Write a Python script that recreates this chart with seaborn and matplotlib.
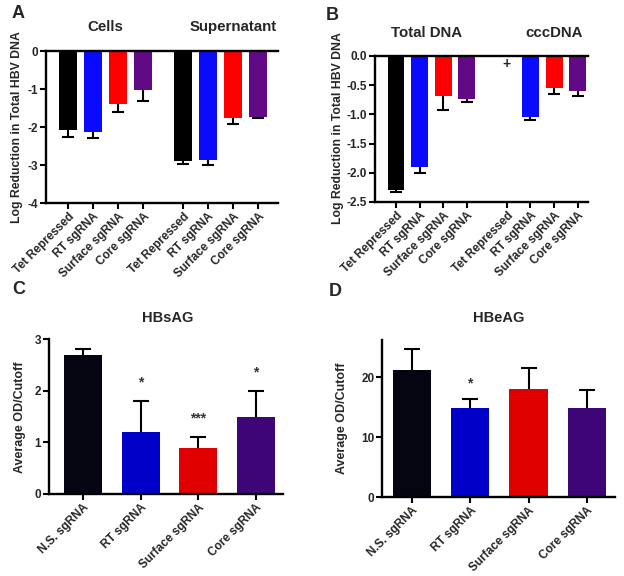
import numpy as np
import pandas as pd
import seaborn as sns
import matplotlib.pyplot as plt

# --- data ---
sgrna_labels = ["Tet Repressed", "RT sgRNA", "Surface sgRNA", "Core sgRNA"]
elisa_labels = ["N.S. sgRNA", "RT sgRNA", "Surface sgRNA", "Core sgRNA"]

cells_mean = [-2.07, -2.13, -1.40, -1.02]
cells_err = [0.18, 0.17, 0.20, 0.30]
super_mean = [-2.90, -2.87, -1.77, -1.73]
super_err = [0.08, 0.13, 0.15, 0.02]

total_mean = [-2.30, -1.90, -0.68, -0.74]
total_err = [0.03, 0.10, 0.24, 0.04]
ccc_mean = [np.nan, -1.05, -0.55, -0.60]
ccc_err = [np.nan, 0.05, 0.10, 0.08]

hbsag_mean = [2.7, 1.2, 0.9, 1.5]
hbsag_err = [0.1, 0.6, 0.2, 0.5]
hbsag_stars = ["", "*", "***", "*"]

hbeag_mean = [21.2, 14.8, 18.1, 14.9]
hbeag_err = [3.5, 1.5, 3.4, 2.9]
hbeag_stars = ["", "*", "", ""]

dna_colors = ["#000000", "#0a0aff", "#ff0000", "#620a86"]
elisa_colors = ["#050512", "#0000c8", "#e00000", "#3d0577"]

sns.set_style("ticks")
plt.rcParams["font.family"] = ["Liberation Sans", "DejaVu Sans"]
plt.rcParams["font.weight"] = "bold"
plt.rcParams["axes.unicode_minus"] = False

W, H = 624, 576
fig = plt.figure(figsize=(W / 100, H / 100), dpi=100)


def px_axes(x0, y0, x1, y1):
    # pixel box (left, top, right, bottom) -> figure axes
    return fig.add_axes([x0 / W, 1 - y1 / H, (x1 - x0) / W, (y1 - y0) / H])


def style_axes(ax, top=False, size=8):
    sns.despine(ax=ax, top=not top, right=True)
    for s in ax.spines.values():
        s.set_linewidth(1.7)
        s.set_color("black")
    ax.tick_params(width=1.5, length=4, color="black", labelsize=size, pad=1.5)
    for t in ax.get_yticklabels():
        t.set_fontweight("bold")


def one_sided_errorbar(ax, x, y, err, down, capsize):
    e = np.nan_to_num(np.array(err))
    z = np.zeros_like(e)
    yerr = [e, z] if down else [z, e]
    _, caps, _ = ax.errorbar(x, y, yerr=yerr, fmt="none", ecolor="black",
                             elinewidth=1.5, capsize=capsize, capthick=1.5, zorder=5)
    # hide the cap that sits on the bar end
    caps[1 if down else 0].set_visible(False)


def dna_panel(ax, positions, means, errs, labels, ylim, yticks, ytl):
    df = pd.DataFrame({"pos": positions, "value": means,
                       "label": [f"{l} {i // 4}" for i, l in enumerate(labels)]})
    pal = {f"{l} {i // 4}": dna_colors[i % 4] for i, l in enumerate(labels)}
    sns.barplot(data=df.dropna(), x="pos", y="value", hue="label", palette=pal,
                native_scale=True, dodge=False, legend=False, errorbar=None,
                width=0.72, saturation=1, linewidth=0, edgecolor="none", ax=ax)
    one_sided_errorbar(ax, positions, means, errs, True, 4.5)
    ax.set_ylim(*ylim)
    ax.set_yticks(yticks)
    ax.set_yticklabels(ytl, fontweight="bold")
    ax.set_xticks(positions)
    ax.set_xticklabels(labels, rotation=45, ha="right", rotation_mode="anchor",
                       fontweight="bold", fontsize=8.5)
    ax.set_xlabel("")
    ax.set_ylabel("")
    style_axes(ax, top=True, size=8.5)
    ax.tick_params(axis="x", top=False)


def elisa_panel(ax, means, errs, stars, colors, ylim, yticks, star_off):
    df = pd.DataFrame({"label": elisa_labels, "value": means})
    sns.barplot(data=df, x="label", y="value", hue="label", palette=colors,
                legend=False, errorbar=None, width=0.66, saturation=1,
                linewidth=0, edgecolor="none", ax=ax)
    one_sided_errorbar(ax, range(4), means, errs, False, 5.5)
    for i, s in enumerate(stars):
        if s:
            ax.text(i, means[i] + errs[i] + star_off, s, ha="center", va="center",
                    fontsize=10, fontweight="bold", color="#333333")
    ax.set_ylim(*ylim)
    ax.set_yticks(yticks)
    ax.set_xticks(range(4))
    ax.set_xticklabels(elisa_labels, rotation=45, ha="right", rotation_mode="anchor",
                       fontweight="bold", fontsize=8.5)
    ax.set_xlabel("")
    ax.set_ylabel("")
    style_axes(ax, size=8.5)


# Panel A
axA = px_axes(46, 51, 278, 203)
posA = [0, 1, 2, 3, 4.6, 5.6, 6.6, 7.6]
dna_panel(axA, posA, cells_mean + super_mean, cells_err + super_err,
          sgrna_labels * 2, (-4, 0), [-4, -3, -2, -1, 0], ["-4", "-3", "-2", "-1", "0"])
axA.set_xlim(-0.88, 8.4)
trA = axA.get_xaxis_transform()
axA.text(1.5, 1.158, "Cells", transform=trA, ha="center", va="center", fontsize=10.8, fontweight="bold")
axA.text(6.6, 1.158, "Supernatant", transform=trA, ha="center", va="center", fontsize=10.8, fontweight="bold")

# Panel B
axB = px_axes(375, 56, 588, 202)
posB = [0, 1, 2, 3, 4.7, 5.7, 6.7, 7.7]
dna_panel(axB, posB, total_mean + ccc_mean, total_err + ccc_err,
          sgrna_labels * 2, (-2.5, 0), [-2.5, -2.0, -1.5, -1.0, -0.5, 0.0],
          ["-2.5", "-2.0", "-1.5", "-1.0", "-0.5", "0.0"])
axB.set_xlim(-0.89, 8.14)
axB.text(4.7, -0.13, "+", ha="center", va="center", fontsize=10, fontweight="bold")
trB = axB.get_xaxis_transform()
axB.text(1.31, 1.158, "Total DNA", transform=trB, ha="center", va="center", fontsize=10.8, fontweight="bold")
axB.text(6.7, 1.158, "cccDNA", transform=trB, ha="center", va="center", fontsize=10.8, fontweight="bold")

# Panel C
axC = px_axes(49, 339, 283, 494)
elisa_panel(axC, hbsag_mean, hbsag_err, hbsag_stars, elisa_colors, (0, 3), [0, 1, 2, 3], 0.36)
axC.set_xlim(-0.59, 3.47)
axC.text(0.508, 1.135, "HBsAG", transform=axC.transAxes, ha="center", va="center", fontsize=10.5, fontweight="bold")

# Panel D
axD = px_axes(382, 340, 615, 497)
elisa_panel(axD, hbeag_mean, hbeag_err, hbeag_stars, elisa_colors, (0, 26.2), [0, 10, 20], 2.6)
axD.set_xlim(-0.51, 3.48)
axD.text(0.502, 1.14, "HBeAG", transform=axD.transAxes, ha="center", va="center", fontsize=10.5, fontweight="bold")

# y labels
fig.text(17 / W, 1 - 127 / H, "Log Reduction in Total HBV DNA", rotation=90, ha="center", va="center", fontsize=8.8, fontweight="bold")
fig.text(338 / W, 1 - 128 / H, "Log Reduction in Total HBV DNA", rotation=90, ha="center", va="center", fontsize=8.8, fontweight="bold")
fig.text(20 / W, 1 - 417 / H, "Average OD/Cutoff", rotation=90, ha="center", va="center", fontsize=9, fontweight="bold")
fig.text(342 / W, 1 - 418 / H, "Average OD/Cutoff", rotation=90, ha="center", va="center", fontsize=9, fontweight="bold")

# panel letters
for letter, x, y in [("A", 18, 14), ("B", 332, 15), ("C", 19, 290), ("D", 335, 291)]:
    fig.text(x / W, 1 - y / H, letter, ha="center", va="center", fontsize=13, fontweight="bold")

fig.savefig("out.png", dpi=100)
